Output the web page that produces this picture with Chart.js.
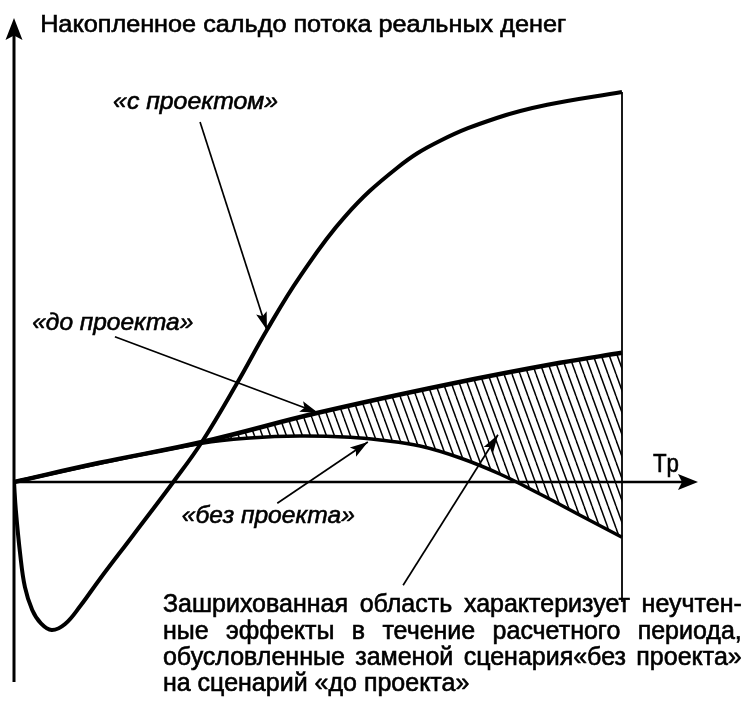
<!DOCTYPE html>
<html lang="ru">
<head>
<meta charset="UTF-8">
<title>Накопленное сальдо потока реальных денег</title>
<script src="https://cdn.jsdelivr.net/npm/chart.js"></script>
<style>
  body { margin: 0; background: #fff; }
  canvas { display: block; }
</style>
</head>
<body>
<canvas id="chart" width="746" height="701"></canvas>
<script>
// время расчетного периода (Tp = 10) и накопленное сальдо
const withX = [0, 0.03, 0.1, 0.18, 0.3, 0.44, 0.62, 0.84, 1.09, 1.41, 1.96, 2.62, 3.09, 3.68, 4.16, 4.7, 5.44, 6.3, 7.01, 7.94, 8.77, 10];
const withY = [0, -0.7, -1.78, -2.63, -3.2, -3.53, -3.7, -3.55, -3.1, -2.43, -1.33, 0, 1.0, 2.5, 3.8, 5.13, 6.63, 7.85, 8.53, 9.1, 9.43, 9.75];

const beforeX = [0, 1.41, 3.09, 5.0, 7.17, 8.98, 10];
const beforeY = [0, 0.48, 1.0, 1.73, 2.45, 2.98, 3.23];

const withoutX = [0, 1.41, 3.09, 3.88, 4.7, 5.53, 6.02, 6.68, 7.34, 7.99, 8.65, 9.31, 10];
const withoutY = [0, 0.47, 0.97, 1.1, 1.15, 1.12, 1.05, 0.9, 0.6, 0.2, -0.3, -0.83, -1.38];

const seriesNames = ["«с проектом»", "«до проекта»", "«без проекта»"];
const axisTitle = "Накопленное сальдо потока реальных денег";
const periodLabel = "Tp";
const periodEnd = 10;
const noteLines = [
    "Зашрихованная область характеризует неучтен-",
    "ные эффекты в течение расчетного периода,",
    "обусловленные заменой сценария«без проекта»",
    "на сценарий «до проекта»"
];

const FONT = '"Liberation Sans", Arial, sans-serif';

function toPoints(xs, ys) {
    return xs.map((v, i) => ({ x: v, y: ys[i] }));
}

// штриховка "\\\\"
function hatch() {
    const c = document.createElement("canvas");
    c.width = 8; c.height = 22;
    const g = c.getContext("2d");
    g.strokeStyle = "#000";
    g.lineWidth = 1.5;
    for (const dx of [-8, 0, 8]) {
        g.beginPath();
        g.moveTo(dx, 0);
        g.lineTo(dx + 8, 22);
        g.stroke();
    }
    return g.createPattern(c, "repeat");
}

function head(ctx, fx, fy, tx, ty, len, wid) {
    const a = Math.atan2(ty - fy, tx - fx);
    const c = Math.cos(a), s = Math.sin(a);
    ctx.beginPath();
    ctx.moveTo(tx, ty);
    ctx.lineTo(tx - len * c + wid / 2 * s, ty - len * s - wid / 2 * c);
    ctx.lineTo(tx - len * c * 0.8, ty - len * s * 0.8);
    ctx.lineTo(tx - len * c - wid / 2 * s, ty - len * s + wid / 2 * c);
    ctx.closePath();
    ctx.fill();
}

function arrow(ctx, fx, fy, tx, ty) {
    ctx.lineWidth = 1.7;
    ctx.beginPath();
    ctx.moveTo(fx, fy);
    ctx.lineTo(tx, ty);
    ctx.stroke();
    head(ctx, fx, fy, tx, ty, 18, 11);
}

function ink(ctx, text, x, y) {
    ctx.fillText(text, x, y);
    ctx.strokeText(text, x, y);
}

function fitText(ctx, text, x, y, w) {
    const m = ctx.measureText(text).width;
    ctx.save();
    ctx.translate(x, y);
    ctx.scale(w / m, 1);
    ink(ctx, text, 0, 0);
    ctx.restore();
}

function justify(ctx, text, x, y, w) {
    const words = text.split(" ");
    const widths = words.map(t => ctx.measureText(t).width);
    const sum = widths.reduce((a, b) => a + b, 0);
    const gap = (w - sum) / (words.length - 1);
    let cx = x;
    words.forEach((t, i) => {
        ink(ctx, t, cx, y);
        cx += widths[i] + gap;
    });
}

const sketch = {
    id: "sketch",
    beforeDatasetsDraw(chart) {
        const { ctx, scales: { x, y } } = chart;
        const x0 = x.getPixelForValue(0), y0 = y.getPixelForValue(0);
        ctx.save();
        ctx.strokeStyle = "#000";
        ctx.fillStyle = "#000";

        // ось ординат
        ctx.lineWidth = 3;
        ctx.beginPath();
        ctx.moveTo(x0, y.bottom);
        ctx.lineTo(x0, y.top + 15);
        ctx.stroke();
        head(ctx, x0, y.bottom, x0, y.top, 22, 17);

        // ось времени
        ctx.lineWidth = 2.5;
        ctx.beginPath();
        ctx.moveTo(x0, y0);
        ctx.lineTo(x.right - 12, y0);
        ctx.stroke();
        head(ctx, x0, y0, x.right, y0, 20, 16);

        // конец расчетного периода
        const xt = x.getPixelForValue(periodEnd);
        ctx.lineWidth = 1.8;
        ctx.beginPath();
        ctx.moveTo(xt, y.getPixelForValue(withY[withY.length - 1]));
        ctx.lineTo(xt, y.getPixelForValue(-3.0));
        ctx.stroke();
        ctx.restore();
    },
    afterDatasetsDraw(chart) {
        const { ctx, scales: { x, y } } = chart;
        const px = v => x.getPixelForValue(v);
        const py = v => y.getPixelForValue(v);
        ctx.save();
        ctx.strokeStyle = "#000";
        ctx.fillStyle = "#000";
        ctx.lineWidth = 0.6;
        ctx.textBaseline = "alphabetic";

        ctx.font = "24px " + FONT;
        fitText(ctx, axisTitle, px(0.43), py(11.25), 526);
        ctx.font = "25px " + FONT;
        fitText(ctx, periodLabel, px(10.51), py(0.25), 26);

        ctx.font = "italic 24px " + FONT;
        fitText(ctx, seriesNames[0], px(1.63), py(9.33), 165);
        fitText(ctx, seriesNames[1], px(0.30), py(3.8), 161);
        fitText(ctx, seriesNames[2], px(2.76), py(-1.03), 173);

        // стрелки-выноски
        arrow(ctx, px(3.06), py(9.0), px(4.16), py(3.8));
        arrow(ctx, px(1.66), py(3.63), px(5.0), py(1.73));
        arrow(ctx, px(4.33), py(-0.53), px(5.82), py(1.0));
        arrow(ctx, px(6.40), py(-2.58), px(7.96), py(1.18));

        // пояснение
        ctx.lineWidth = 0.6;
        ctx.font = "25px " + FONT;
        const left = px(2.45), right = px(11.97);
        const base = [-3.25, -3.93, -4.58, -5.23];
        noteLines.forEach((t, i) => {
            if (i < noteLines.length - 1) justify(ctx, t, left, py(base[i]), right - left);
            else ink(ctx, t, left, py(base[i]));
        });
        ctx.restore();
    }
};

new Chart(document.getElementById("chart"), {
    type: "line",
    data: {
        datasets: [
            {
                label: seriesNames[0],
                data: toPoints(withX, withY),
                borderColor: "#000",
                borderWidth: 4,
                pointRadius: 0,
                tension: 0.4,
                fill: false
            },
            {
                label: seriesNames[1],
                data: toPoints(beforeX, beforeY),
                borderColor: "#000",
                borderWidth: 4.5,
                pointRadius: 0,
                tension: 0.4,
                fill: false
            },
            {
                label: seriesNames[2],
                data: toPoints(withoutX, withoutY),
                borderColor: "#000",
                borderWidth: 3.5,
                pointRadius: 0,
                tension: 0.4,
                backgroundColor: hatch(),
                fill: { target: 1 }
            }
        ]
    },
    options: {
        responsive: false,
        animation: false,
        devicePixelRatio: 1,
        layout: { padding: { left: 14, right: 48, top: 18, bottom: 19 } },
        scales: {
            x: { type: "linear", min: 0, max: 11.25, display: false },
            y: { type: "linear", min: -5, max: 11.6, display: false }
        },
        plugins: {
            legend: { display: false },
            tooltip: { enabled: false }
        }
    },
    plugins: [sketch]
});
</script>
</body>
</html>
